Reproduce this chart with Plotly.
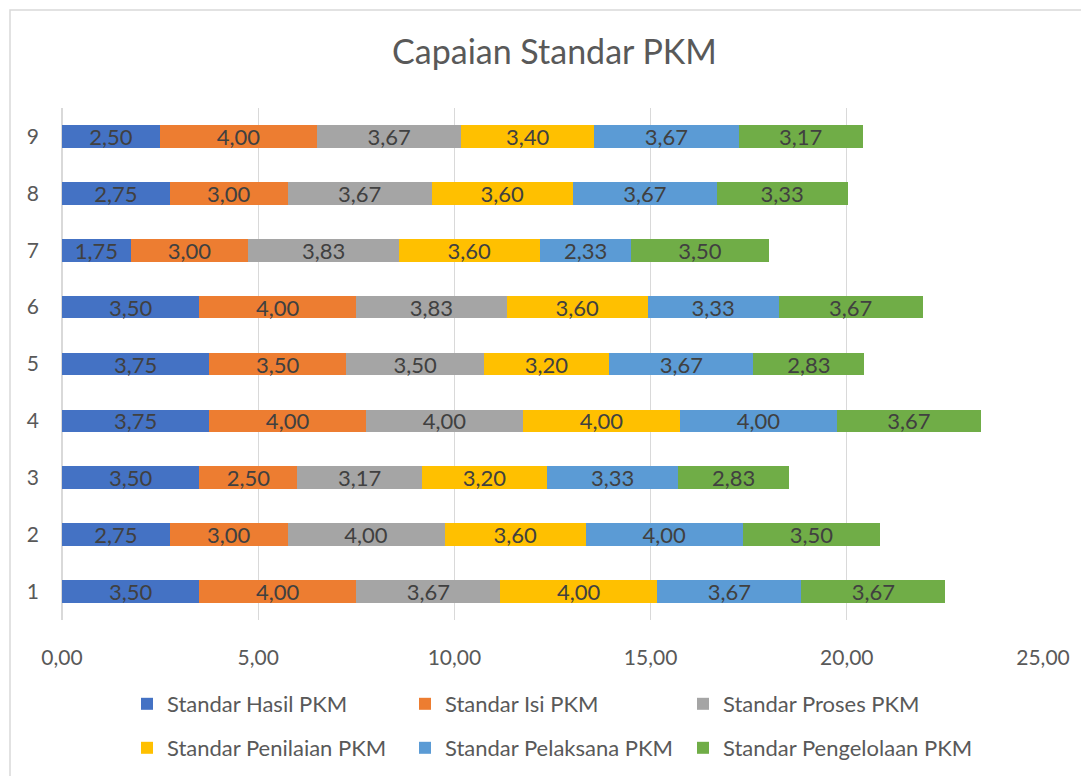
import plotly.graph_objects as go

categories = ["1", "2", "3", "4", "5", "6", "7", "8", "9"]
series_names = ["Standar Hasil PKM", "Standar Isi PKM", "Standar Proses PKM",
                "Standar Penilaian PKM", "Standar Pelaksana PKM", "Standar Pengelolaan PKM"]
hasil = [3.50, 2.75, 3.50, 3.75, 3.75, 3.50, 1.75, 2.75, 2.50]
isi = [4.00, 3.00, 2.50, 4.00, 3.50, 4.00, 3.00, 3.00, 4.00]
proses = [3.67, 4.00, 3.17, 4.00, 3.50, 3.83, 3.83, 3.67, 3.67]
penilaian = [4.00, 3.60, 3.20, 4.00, 3.20, 3.60, 3.60, 3.60, 3.40]
pelaksana = [3.67, 4.00, 3.33, 4.00, 3.67, 3.33, 2.33, 3.67, 3.67]
pengelolaan = [3.67, 3.50, 2.83, 3.67, 2.83, 3.67, 3.50, 3.33, 3.17]
x_ticks = [0, 5, 10, 15, 20, 25]

colors = ["#4472C4", "#ED7D31", "#A5A5A5", "#FFC000", "#5B9BD5", "#70AD47"]
FONT = "Lato"

# page body has an 8px margin -> figure coordinates = reference pixel - 8
OFF = 8
W, H = 1089 - OFF, 776 - OFF
L, T = 62 - OFF, 108 - OFF
R = W - (1043 - OFF)
B = H - (620.5 - OFF)
pw = W - L - R
ph = H - T - B


def px_x(p):
    return (p - OFF - L) / pw


def px_y(p):
    return ((H - B) - (p - OFF)) / ph


def cx(p):
    return (p - OFF) / W


def cy(p):
    return 1 - (p - OFF) / H


# legend slot positions (reference pixels): column x of legend box, row y centre
leg_cols = [127, 405, 683]
leg_rows = [704, 748]

fig = go.Figure()
legend_layout = {}
for i, (name, vals, col) in enumerate(zip(series_names,
                           [hasil, isi, proses, penilaian, pelaksana, pengelolaan],
                           colors)):
    key = "legend" if i == 0 else f"legend{i + 1}"
    fig.add_trace(go.Bar(
        y=categories, x=vals, name=name, orientation="h",
        marker=dict(color=col, line=dict(width=0)),
        text=vals, texttemplate="%{x:.2f}", textposition="inside",
        insidetextanchor="middle", constraintext="none",
        textfont=dict(family=FONT, size=22, color="#404040"),
        legend=key,
    ))
    legend_layout[key] = dict(
        xref="container", yref="container",
        x=cx(leg_cols[i % 3]), y=cy(leg_rows[i // 3]),
        xanchor="left", yanchor="middle", orientation="h",
        font=dict(family=FONT, size=22, color="#595959"),
        bgcolor="rgba(0,0,0,0)",
    )

fig.update_layout(
    width=W, height=H,
    barmode="stack", bargap=0.6,
    separators=",.",
    plot_bgcolor="white", paper_bgcolor="white",
    margin=dict(l=L, r=R, t=T, b=B, pad=0, autoexpand=False),
    title=dict(text="Capaian Standar PKM", x=(554.5 - OFF) / W, xanchor="center",
               y=1 - (52 - OFF) / H, yanchor="middle",
               font=dict(family=FONT, size=34, color="#595959")),
    xaxis=dict(range=[0, 25], tickvals=x_ticks, tickformat=".2f",
               showgrid=True, gridcolor="#D9D9D9", gridwidth=1,
               zeroline=True, zerolinecolor="#D9D9D9", showline=False,
               ticks="", ticklen=0, ticklabelstandoff=23,
               tickfont=dict(family=FONT, size=21, color="#595959")),
    yaxis=dict(type="category", categoryorder="array", categoryarray=categories,
               range=[-0.5, 8.5], showgrid=False, zeroline=False, showline=False,
               ticks="", ticklabelstandoff=22,
               tickfont=dict(family=FONT, size=21, color="#595959")),
    showlegend=True,
    **legend_layout,
)

fig.add_shape(type="rect", xref="paper", yref="paper",
              x0=px_x(10), x1=px_x(1089 + 30),
              y0=px_y(776 + 30), y1=px_y(10),
              line=dict(color="#D9D9D9", width=1.5), fillcolor="rgba(0,0,0,0)",
              layer="below")

fig.write_html("out.html")
